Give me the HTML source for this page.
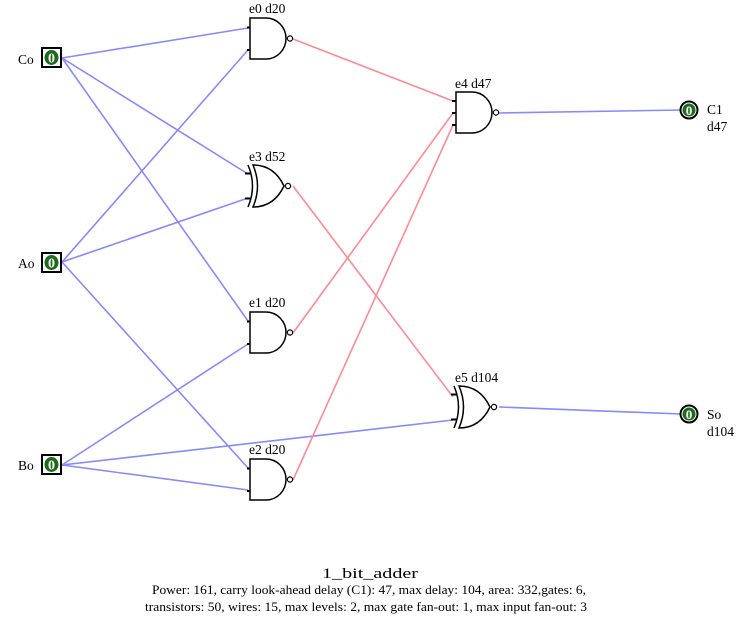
<!DOCTYPE html>
<html><head><meta charset="utf-8"><style>
html,body{margin:0;padding:0;background:#fff;}
svg{display:block;font-family:"Liberation Serif",serif;}
</style></head><body>
<svg width="740" height="617" viewBox="0 0 740 617" xmlns="http://www.w3.org/2000/svg">
<g stroke="#8888ff" stroke-width="1.6" fill="none">
<line x1="62" y1="58" x2="248" y2="28"/>
<line x1="62" y1="58" x2="248" y2="174"/>
<line x1="62" y1="58" x2="248" y2="321"/>
<line x1="62" y1="262" x2="248" y2="50"/>
<line x1="62" y1="262" x2="248" y2="198"/>
<line x1="62" y1="262" x2="248" y2="468"/>
<line x1="62" y1="465" x2="248" y2="344"/>
<line x1="62" y1="465" x2="453" y2="420"/>
<line x1="62" y1="465" x2="248" y2="490"/>
<line x1="499" y1="113" x2="681" y2="110"/>
<line x1="499" y1="407" x2="681" y2="414"/>
</g>
<g stroke="#ff8a94" stroke-width="1.6" fill="none">
<line x1="293" y1="39" x2="453" y2="101"/>
<line x1="293" y1="333" x2="453" y2="113"/>
<line x1="293" y1="480" x2="453" y2="125"/>
<line x1="293" y1="186" x2="453" y2="397"/>
</g>
<defs>
<g id="nand2">
<path d="M0,0 h16 a20,20.5 0 0 1 0,41 h-16 Z" fill="#fff" stroke="#000" stroke-width="1.5"/>
<line x1="-3" y1="9.5" x2="0" y2="9.5" stroke="#000" stroke-width="2"/>
<line x1="-3" y1="32" x2="0" y2="32" stroke="#000" stroke-width="2"/>
<circle cx="40" cy="20.5" r="2.6" fill="#fff" stroke="#000" stroke-width="1.2"/>
</g>
<g id="xnor">
<path d="M5,0 Q14,21 5,42 Q26,42 36,21 Q26,0 5,0 Z" fill="#fff" stroke="#000" stroke-width="1.5"/>
<path d="M0,0 Q9,21 0,42" fill="none" stroke="#000" stroke-width="1.5"/>
<line x1="-3" y1="8.5" x2="3" y2="8.5" stroke="#000" stroke-width="2"/>
<line x1="-3" y1="33.5" x2="3" y2="33.5" stroke="#000" stroke-width="2"/>
<circle cx="40" cy="21" r="2.6" fill="#fff" stroke="#000" stroke-width="1.2"/>
</g>
</defs>
<use href="#nand2" x="250" y="18"/>
<use href="#xnor" x="248" y="165"/>
<use href="#nand2" x="250" y="312"/>
<use href="#nand2" x="250" y="459"/>
<use href="#xnor" x="454" y="386"/>
<path d="M456,92 h16 a20,20.5 0 0 1 0,41 h-16 Z" fill="#fff" stroke="#000" stroke-width="1.5"/>
<g stroke="#000" stroke-width="2"><line x1="452" y1="101" x2="456" y2="101"/><line x1="452" y1="113" x2="456" y2="113"/><line x1="452" y1="125" x2="456" y2="125"/></g>
<circle cx="496" cy="112.5" r="2.6" fill="#fff" stroke="#000" stroke-width="1.2"/>
<g font-size="13.5" fill="#000">
<text x="249" y="13">e0 d20</text>
<text x="249" y="161">e3 d52</text>
<text x="249" y="307">e1 d20</text>
<text x="249" y="454">e2 d20</text>
<text x="455" y="88">e4 d47</text>
<text x="455" y="382">e5 d104</text>
<text x="18" y="64">Co</text>
<text x="18" y="268">Ao</text>
<text x="18" y="470">Bo</text>
<text x="707" y="114">C1</text>
<text x="707" y="131">d47</text>
<text x="707" y="419">So</text>
<text x="707" y="436">d104</text>
</g>
<g>
<rect x="42" y="48" width="19" height="19" fill="#fff" stroke="#000" stroke-width="2"/>
<ellipse cx="51.5" cy="57.5" rx="7" ry="7.5" fill="#1a6b1a"/>
<text x="51.5" y="62.5" font-size="14" fill="#fff" text-anchor="middle" font-weight="bold">0</text>
<rect x="42" y="253" width="19" height="19" fill="#fff" stroke="#000" stroke-width="2"/>
<ellipse cx="51.5" cy="262.5" rx="7" ry="7.5" fill="#1a6b1a"/>
<text x="51.5" y="267.5" font-size="14" fill="#fff" text-anchor="middle" font-weight="bold">0</text>
<rect x="42" y="455" width="19" height="19" fill="#fff" stroke="#000" stroke-width="2"/>
<ellipse cx="51.5" cy="464.5" rx="7" ry="7.5" fill="#1a6b1a"/>
<text x="51.5" y="469.5" font-size="14" fill="#fff" text-anchor="middle" font-weight="bold">0</text>
<circle cx="689" cy="110" r="8.5" fill="#fff" stroke="#000" stroke-width="2"/>
<circle cx="689" cy="110" r="6.5" fill="#1a6b1a"/>
<text x="689" y="115" font-size="13" fill="#fff" text-anchor="middle" font-weight="bold">0</text>
<circle cx="689" cy="414" r="8.5" fill="#fff" stroke="#000" stroke-width="2"/>
<circle cx="689" cy="414" r="6.5" fill="#1a6b1a"/>
<text x="689" y="419" font-size="13" fill="#fff" text-anchor="middle" font-weight="bold">0</text>
</g>
<text x="322" y="578" font-size="15" textLength="96" lengthAdjust="spacingAndGlyphs">1_bit_adder</text>
<text x="152" y="594" font-size="12.5" textLength="434" lengthAdjust="spacingAndGlyphs">Power: 161, carry look-ahead delay (C1): 47, max delay: 104, area: 332,gates: 6,</text>
<text x="145" y="611" font-size="12.5" textLength="442" lengthAdjust="spacingAndGlyphs">transistors: 50, wires: 15, max levels: 2, max  gate fan-out: 1, max input fan-out: 3</text>
</svg>
</body></html>
